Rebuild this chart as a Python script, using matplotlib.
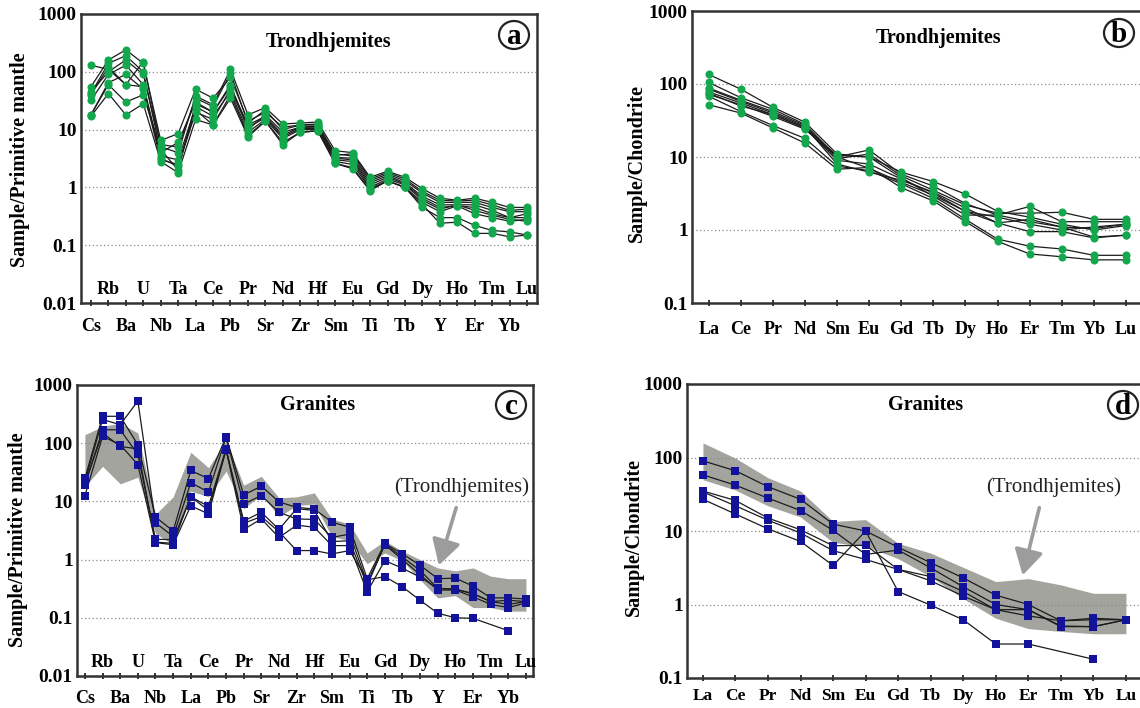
import numpy as np
import matplotlib
matplotlib.use("Agg")
import matplotlib.pyplot as plt
from matplotlib.ticker import FixedLocator, FixedFormatter, NullLocator
from matplotlib.transforms import blended_transform_factory
from matplotlib.patches import Ellipse

# ---------------- data ----------------
pm_elements = ['Cs', 'Rb', 'Ba', 'U', 'Nb', 'Ta', 'La', 'Ce', 'Pb', 'Pr', 'Sr', 'Nd', 'Zr',
               'Hf', 'Sm', 'Eu', 'Ti', 'Gd', 'Tb', 'Dy', 'Y', 'Ho', 'Er', 'Tm', 'Yb', 'Lu']
ree_elements = ['La', 'Ce', 'Pr', 'Nd', 'Sm', 'Eu', 'Gd', 'Tb', 'Dy', 'Ho', 'Er', 'Tm', 'Yb', 'Lu']

nan = np.nan

# Trondhjemites, primitive-mantle normalised (panel a)
trond_pm_1 = [130, 110, 60, 150, 5.0, 4.0, 38, 27, 110, 18, 24, 12.5, 13, 13.5, 4.3, 4.0, 1.5, 1.9, 1.5, 0.95, 0.65, 0.60, 0.65, 0.55, 0.45, 0.45]
trond_pm_2 = [55, 160, 240, 140, 6.5, 8.5, 50, 35, 80, 14, 20, 11, 12, 12, 3.8, 3.5, 1.3, 1.7, 1.3, 0.80, 0.55, 0.55, 0.55, 0.45, 0.38, 0.38]
trond_pm_3 = [42, 140, 190, 100, 4.0, 6.0, 30, 20, 55, 12, 17, 8.0, 11, 11, 3.2, 3.0, 1.1, 1.5, 1.15, 0.65, 0.45, 0.48, 0.45, 0.35, 0.30, 0.35]
trond_pm_4 = [32, 90, 130, 60, 3.5, 3.0, 25, 17, 45, 9.0, 15, 7.0, 10, 10, 2.8, 2.5, 0.95, 1.3, 1.0, 0.55, 0.38, 0.48, 0.35, 0.30, 0.26, 0.28]
trond_pm_5 = [18, 65, 90, 50, 3.0, 2.5, 22, 12, 40, 8.0, 14, 6.0, 9.0, 9.5, 2.6, 2.1, 0.88, 1.3, 1.0, 0.45, 0.30, 0.30, 0.22, 0.18, 0.17, 0.15]
trond_pm_6 = [17, 42, 18, 28, 2.8, 1.8, 15, 12, 35, 7.5, 14, 5.5, 9.0, 9.5, 2.6, 2.2, 0.90, 1.3, 1.0, 0.50, 0.24, 0.25, 0.16, 0.16, 0.14, 0.15]
trond_pm_7 = [18, 60, 30, 40, 4.5, 2.0, 28, 20, 60, 10, 18, 9.0, 11, 11.5, 3.3, 3.2, 1.2, 1.6, 1.2, 0.70, 0.50, 0.50, 0.50, 0.40, 0.30, 0.30]
trond_pm_8 = [45, 100, 160, 90, 5.5, 5.0, 35, 25, 95, 13, 22, 10, 12, 12.5, 3.6, 3.8, 1.4, 1.8, 1.4, 0.85, 0.60, 0.58, 0.60, 0.50, 0.40, 0.42]
trond_pm_9 = [40, 120, 60, 55, 3.2, 2.3, 20, 15, 50, 11, 16, 7.5, 10.5, 10.5, 3.0, 2.8, 1.0, 1.4, 1.1, 0.60, 0.42, 0.50, 0.40, 0.33, 0.28, 0.26]

# Trondhjemites, chondrite normalised (panel b)
trond_ree_1 = [135, 85, 48, 30, 11, 10, 6.2, 4.6, 3.1, 1.8, 1.5, 1.2, 1.0, 1.15]
trond_ree_2 = [105, 65, 45, 28, 10, 12.5, 5.8, 4.0, 2.3, 1.6, 2.1, 1.3, 1.3, 1.3]
trond_ree_3 = [88, 60, 42, 27, 9.5, 11, 5.5, 3.5, 2.2, 1.7, 1.7, 1.75, 1.4, 1.4]
trond_ree_4 = [78, 55, 38, 25, 9.0, 8.0, 5.0, 3.2, 1.8, 1.25, 1.4, 1.1, 0.8, 0.85]
trond_ree_5 = [72, 52, 36, 24, 10, 7.0, 4.5, 3.0, 1.8, 1.5, 1.2, 1.0, 1.1, 1.2]
trond_ree_6 = [68, 42, 27, 18, 7.5, 6.5, 4.3, 2.7, 1.4, 0.75, 0.60, 0.55, 0.45, 0.45]
trond_ree_7 = [52, 40, 25, 15.5, 6.8, 7.2, 3.8, 2.5, 1.3, 0.70, 0.47, 0.43, 0.39, 0.39]
trond_ree_8 = [85, 58, 40, 26, 8.0, 6.2, 4.8, 3.3, 2.0, 1.25, 0.95, 0.95, 0.78, 0.85]
trond_ree_9 = [75, 50, 38, 25, 10.5, 10, 5.2, 2.9, 1.6, 1.6, 1.3, 1.1, 1.05, 1.2]

# Granites, primitive-mantle normalised (panel c)
gran_pm_1 = [25, 290, 290, 94, 5.4, 3.1, 34, 24.6, 130, 12.9, 18.3, 9.8, 7.9, 7.4, 4.4, 3.6, 0.47, 1.9, 1.25, 0.80, 0.47, 0.48, 0.35, 0.22, 0.22, 0.21]
gran_pm_2 = [22, 255, 208, 530, 4.3, 2.5, 21, 14.5, 125, 9.0, 12.6, 6.5, 5.0, 4.9, 2.4, 2.75, 0.40, 1.85, 1.1, 0.65, 0.32, 0.31, 0.26, 0.19, 0.20, 0.19]
gran_pm_3 = [19.4, 170, 170, 64, 2.24, 2.2, 12, 8.2, 80, 4.6, 6.5, 3.3, 7.5, 7.0, 2.05, 2.1, 0.36, 1.8, 1.0, 0.55, 0.30, 0.30, 0.23, 0.17, 0.15, 0.18]
gran_pm_4 = [12.6, 131, 94, 43, 1.96, 1.8, 8.4, 6.1, 77, 3.3, 5.0, 2.4, 3.9, 3.6, 1.74, 1.74, 0.28, 0.96, 0.71, 0.50, 0.32, 0.31, 0.26, 0.19, 0.17, 0.19]
gran_pm_5 = [20, 150, 88, 80, 2.0, 1.9, 12, 7.0, 77, 4.2, 5.5, 3.0, 1.43, 1.43, 1.25, 1.43, 0.45, 0.51, 0.34, 0.20, 0.12, 0.10, 0.098, nan, 0.06, nan]

# Granites, chondrite normalised (panel d)
gran_ree_1 = [90, 66, 40, 27, 12.4, 10, 6.0, 3.7, 2.3, 1.34, 1.0, 0.60, 0.65, 0.62]
gran_ree_2 = [58, 42, 28, 19, 10.2, 4.8, 5.5, 3.15, 1.74, 1.0, 0.85, 0.51, 0.50, 0.62]
gran_ree_3 = [35, 26, 15, 10.4, 6.3, 6.4, 3.0, 2.4, 1.5, 0.85, 0.85, 0.50, 0.50, 0.62]
gran_ree_4 = [34, 22, 14, 9.4, 5.4, 4.1, 3.0, 2.1, 1.3, 0.85, 0.70, 0.60, 0.62, 0.62]
gran_ree_5 = [27, 17, 10.7, 7.2, 3.4, 10, 1.5, 0.98, 0.62, 0.29, 0.29, nan, 0.18, nan]

# Trondhjemite field (grey envelope) in panels c and d
field_pm_upper = [140, 195, 220, 150, 6.0, 12, 70, 38, 110, 19, 27, 11.5, 12, 14, 5.0, 4.1, 1.3, 2.1, 1.4, 1.0, 0.72, 0.64, 0.72, 0.52, 0.47, 0.47]
field_pm_lower = [18, 40, 20, 26, 2.8, 1.8, 15, 12, 33, 7.5, 13, 5.5, 8.5, 9.0, 2.5, 2.1, 0.85, 1.3, 0.95, 0.45, 0.22, 0.24, 0.15, 0.15, 0.13, 0.13]
field_ree_upper = [158, 98, 53, 35, 13.5, 14.3, 6.8, 5.0, 3.2, 2.05, 2.25, 1.85, 1.42, 1.42]
field_ree_lower = [50, 36, 22, 15.5, 7.0, 6.2, 4.2, 2.4, 1.2, 0.65, 0.47, 0.43, 0.40, 0.40]

trond_pm = [trond_pm_1, trond_pm_2, trond_pm_3, trond_pm_4, trond_pm_5,
            trond_pm_6, trond_pm_7, trond_pm_8, trond_pm_9]
trond_ree = [trond_ree_1, trond_ree_2, trond_ree_3, trond_ree_4, trond_ree_5,
             trond_ree_6, trond_ree_7, trond_ree_8, trond_ree_9]
gran_pm = [gran_pm_1, gran_pm_2, gran_pm_3, gran_pm_4, gran_pm_5]
gran_ree = [gran_ree_1, gran_ree_2, gran_ree_3, gran_ree_4, gran_ree_5]

# ---------------- style ----------------
SERIF = ['Liberation Serif', 'DejaVu Serif']
plt.rcParams['font.family'] = SERIF
plt.rcParams['font.weight'] = 'bold'

GREEN = '#14a84e'
BLUE = '#12129a'
LINE = '#1c1c1c'
FRAME = '#333333'
FIELD = '#a4a49f'

W, H = 1140, 708
fig = plt.figure(figsize=(W / 100, H / 100), dpi=100)


def px_axes(left, right, top, bottom):
    return fig.add_axes([left / W, 1 - bottom / H, (right - left) / W, (bottom - top) / H])


def plot_samples(ax, samples, marker, color, ms):
    for s in samples:
        y = np.asarray(s, dtype=float)
        x = np.arange(len(y))
        ok = ~np.isnan(y)
        ax.plot(x[ok], y[ok], '-', color=LINE, lw=0.9, zorder=3)
        ax.plot(x[ok], y[ok], marker, color=color, ms=ms, mec=color, mew=0, zorder=4)


def style_axes(ax, elements, xlim, ylim, yticks, ylabels, alternate, pad):
    ax.set_yscale('log')
    ax.set_xlim(*xlim)
    ax.set_ylim(*ylim)
    ax.yaxis.set_major_locator(FixedLocator(yticks))
    ax.yaxis.set_major_formatter(FixedFormatter(ylabels))
    ax.yaxis.set_minor_locator(NullLocator())
    ax.tick_params(axis='y', length=0, pad=3, labelsize=14)
    ax.grid(axis='y', linestyle=(0, (1, 2)), color='#8a8a8a', linewidth=0.9, zorder=0)
    ax.set_xticks(range(len(elements)))
    if alternate:
        labels = [e if i % 2 == 0 else '' for i, e in enumerate(elements)]
        tr = blended_transform_factory(ax.transData, ax.transAxes)
        for i, e in enumerate(elements):
            if i % 2 == 1:
                ax.text(i, 0.045, e, transform=tr, ha='center', va='center',
                        fontsize=13, fontweight='bold', zorder=5)
    else:
        labels = elements
    ax.set_xticklabels(labels)
    ax.tick_params(axis='x', direction='inout', length=4, width=1.4, color=FRAME,
                   pad=pad, labelsize=13)
    for sp in ax.spines.values():
        sp.set_color(FRAME)
        sp.set_linewidth(1.8)


def title(x, y, s):
    fig.text(x / W, 1 - y / H, s, ha='center', va='center', fontsize=14.5, fontweight='bold')


def panel_letter(x, y, s):
    fig.patches.append(Ellipse((x / W, 1 - y / H), 30 / W, 28 / H, transform=fig.transFigure,
                               fill=False, ec='#222222', lw=1.6))
    fig.text(x / W, 1 - y / H - 1 / H, s, ha='center', va='center', fontsize=21, fontweight='bold')


def ylabel(x, y, s):
    fig.text(x / W, 1 - y / H, s, rotation=90, ha='center', va='center',
             fontsize=14.5, fontweight='bold')


def field_arrow(ax_text_xy, tail, tip):
    fig.text(ax_text_xy[0] / W, 1 - ax_text_xy[1] / H, '(Trondhjemites)', ha='center', va='center',
             fontsize=15, fontweight='normal', color='#222222')
    fig.add_artist(matplotlib.patches.FancyArrowPatch(
        (tail[0] / W, 1 - tail[1] / H), (tip[0] / W, 1 - tip[1] / H), transform=fig.transFigure,
        arrowstyle='-|>,head_length=7,head_width=4', color='#9c9c9c', lw=2.6, mutation_scale=2.2))


# ---------------- panel a ----------------
ax_a = px_axes(81, 537, 14, 303)
plot_samples(ax_a, trond_pm, 'o', GREEN, 5.8)
style_axes(ax_a, pm_elements, (-0.57, 25.57), (0.01, 1000),
           [0.01, 0.1, 1, 10, 100, 1000], ['0.01', '0.1', '1', '10', '100', '1000'], True, 9)
title(329, 42, 'Trondhjemites')
panel_letter(514, 35, 'a')
ylabel(20, 160, 'Sample/Primitive mantle')

# ---------------- panel b ----------------
ax_b = px_axes(692, 1150, 11, 303)
plot_samples(ax_b, trond_ree, 'o', GREEN, 5.8)
style_axes(ax_b, ree_elements, (-0.52, 13.75), (0.1, 1000),
           [0.1, 1, 10, 100, 1000], ['0.1', '1', '10', '100', '1000'], False, 11)
title(939, 38, 'Trondhjemites')
panel_letter(1119, 33, 'b')
ylabel(637, 163, 'Sample/Chondrite')

# ---------------- panel c ----------------
ax_c = px_axes(77, 533, 385, 676)
x_pm = np.arange(len(pm_elements))
ax_c.fill_between(x_pm, field_pm_lower, field_pm_upper, color=FIELD, lw=0, zorder=1)
plot_samples(ax_c, gran_pm, 's', BLUE, 5.2)
style_axes(ax_c, pm_elements, (-0.45, 25.4), (0.01, 1000),
           [0.01, 0.1, 1, 10, 100, 1000], ['0.01', '0.1', '1', '10', '100', '1000'], True, 8)
title(318, 405, 'Granites')
panel_letter(511, 405, 'c')
ylabel(18, 540, 'Sample/Primitive mantle')
field_arrow((462, 487), (457, 505), (438, 568))

# ---------------- panel d ----------------
ax_d = px_axes(687, 1150, 384, 678)
x_ree = np.arange(len(ree_elements))
ax_d.fill_between(x_ree, field_ree_lower, field_ree_upper, color=FIELD, lw=0, zorder=1)
plot_samples(ax_d, gran_ree, 's', BLUE, 5.2)
style_axes(ax_d, ree_elements, (-0.49, 13.74), (0.1, 1000),
           [0.1, 1, 10, 100, 1000], ['0.1', '1', '10', '100', '1000'], False, 5)
for lbl in ax_d.get_xticklabels():
    lbl.set_fontsize(12.5)
title(926, 405, 'Granites')
panel_letter(1123, 405, 'd')
ylabel(634, 537, 'Sample/Chondrite')
field_arrow((1054, 487), (1040, 505), (1022, 578))

fig.savefig('out.png', dpi=100)
